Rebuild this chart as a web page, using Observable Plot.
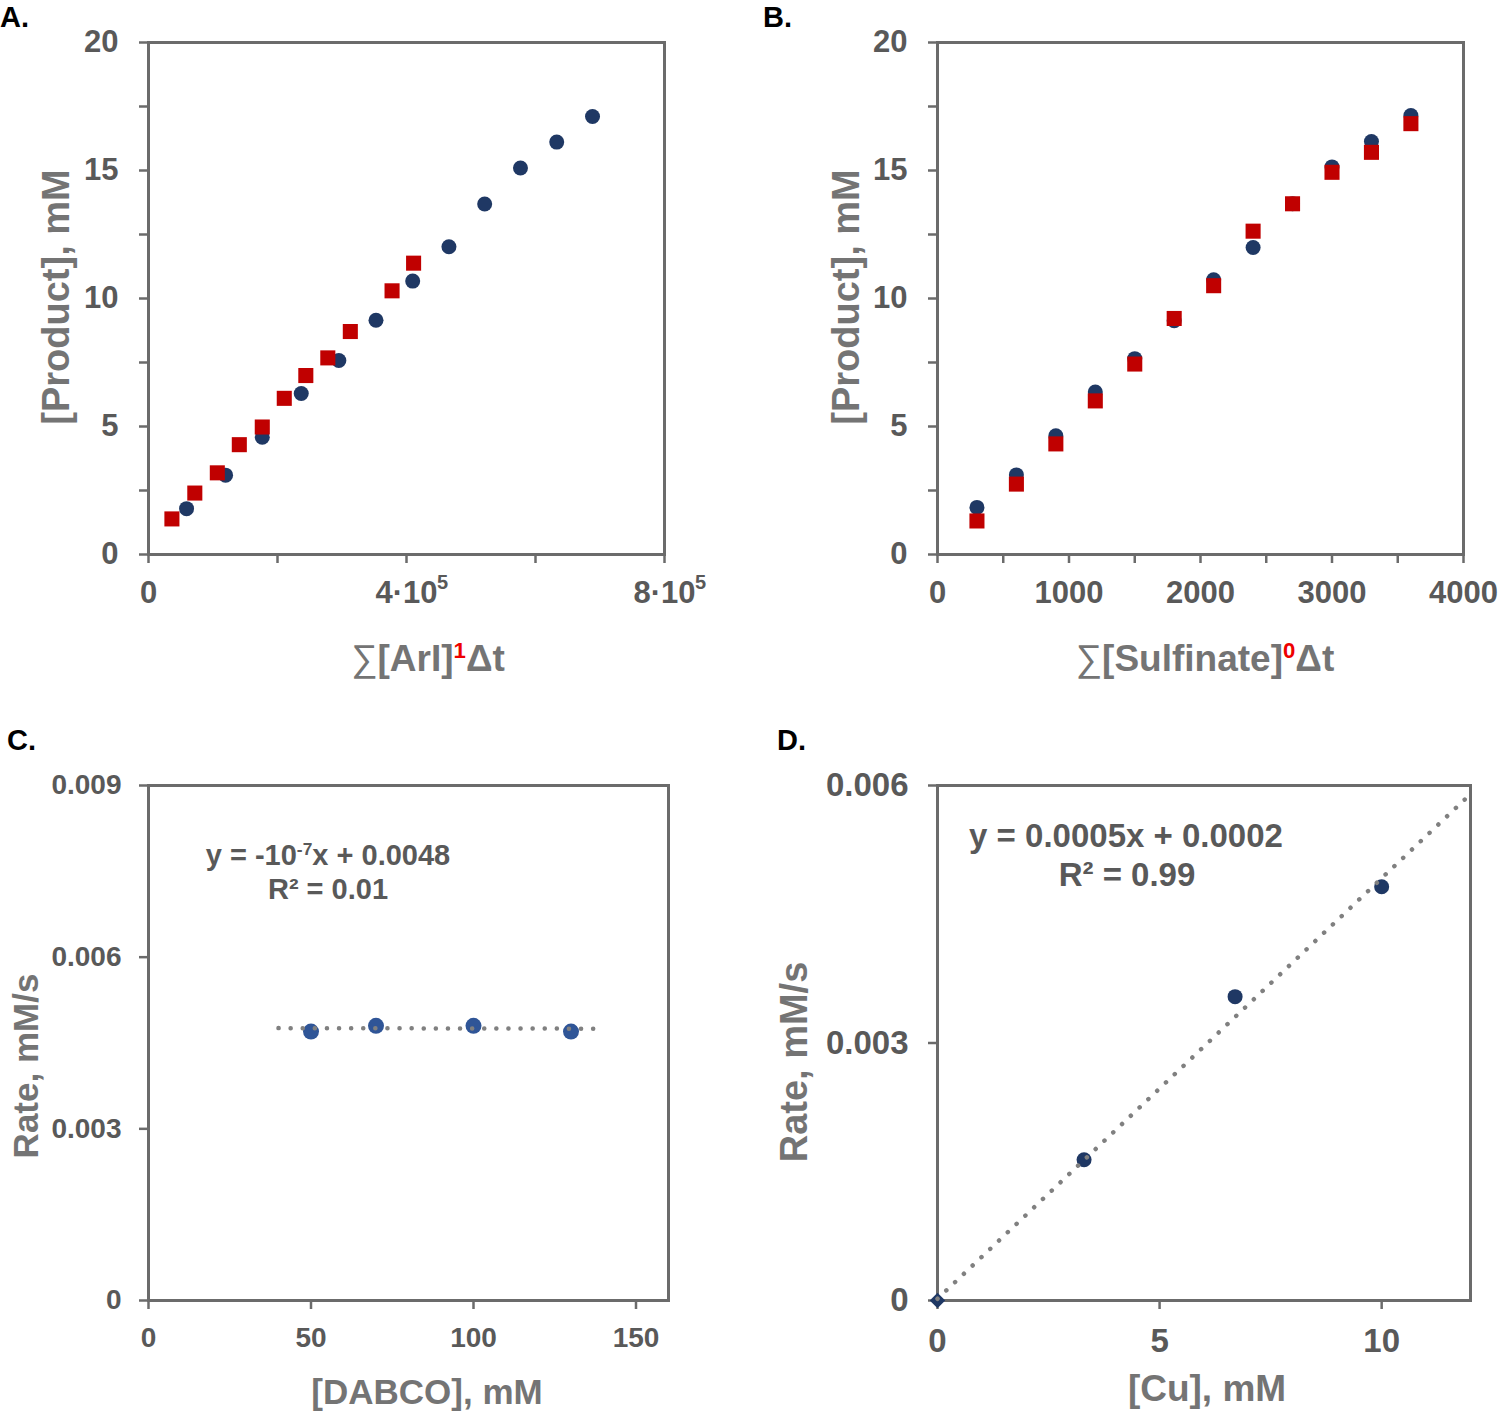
<!DOCTYPE html>
<html>
<head>
<meta charset="utf-8">
<script src="https://cdn.jsdelivr.net/npm/d3@7"></script>
<script src="https://cdn.jsdelivr.net/npm/@observablehq/plot@0.6"></script>
<style>
  body { margin: 0; background: #fff; }
  #root { position: relative; width: 1500px; height: 1412px; overflow: hidden; background: #fff;
          font-family: "Liberation Sans", Arial, sans-serif; font-weight: 700; }
  .panel { position: absolute; }
  .lbl { position: absolute; white-space: nowrap; color: #747474; font-weight: 700; line-height: 1;
         transform: translate(-50%, -50%); }
  .ylbl { transform: translate(-50%, -50%) rotate(-90deg); }
  .letter { position: absolute; color: #000; font-size: 29px; font-weight: 700; line-height: 1; }
  .eq { position: absolute; white-space: nowrap; color: #595959; font-weight: 700; line-height: 1;
        transform: translate(-50%, -50%); }
  .sup { font-size: 60%; vertical-align: 0.55em; }
  .red { color: #ee0000; }
  .sig { font-weight: 400; }
</style>
</head>
<body>
<div id="root">
  <div class="panel" id="pA" style="left:0px;top:0px;width:720px;height:700px"></div>
  <div class="panel" id="pB" style="left:760px;top:0px;width:740px;height:700px"></div>
  <div class="panel" id="pC" style="left:0px;top:720px;width:720px;height:692px"></div>
  <div class="panel" id="pD" style="left:760px;top:720px;width:740px;height:692px"></div>

  <div class="letter" style="left:0px;top:3px">A.</div>
  <div class="letter" style="left:763px;top:3px">B.</div>
  <div class="letter" style="left:7px;top:726px">C.</div>
  <div class="letter" style="left:777px;top:726px">D.</div>

  <div class="lbl ylbl" style="left:56px;top:297px;font-size:38px">[Product], mM</div>
  <div class="lbl ylbl" style="left:846px;top:297px;font-size:38px">[Product], mM</div>
  <div class="lbl ylbl" style="left:25px;top:1066px;font-size:35px">Rate, mM/s</div>
  <div class="lbl ylbl" style="left:794px;top:1062px;font-size:38px">Rate, mM/s</div>

  <div class="lbl" style="left:428px;top:658px;font-size:37px"><span class="sig">∑</span>[ArI]<span class="sup red">1</span>Δt</div>
  <div class="lbl" style="left:1205px;top:658px;font-size:37px"><span class="sig">∑</span>[Sulfinate]<span class="sup red">0</span>Δt</div>
  <div class="lbl" style="left:427px;top:1391px;font-size:35px">[DABCO], mM</div>
  <div class="lbl" style="left:1207px;top:1388px;font-size:37px">[Cu], mM</div>

  <div class="eq" style="left:328px;top:855px;font-size:29px">y = -10<span class="sup">-7</span>x + 0.0048</div>
  <div class="eq" style="left:328px;top:889px;font-size:29px">R² = 0.01</div>
  <div class="eq" style="left:1126px;top:835px;font-size:33px">y = 0.0005x + 0.0002</div>
  <div class="eq" style="left:1127px;top:874px;font-size:33px">R² = 0.99</div>
</div>
<script>
// ---------- Panel A data ----------
const aBlueX = [59000, 119500, 176400, 236800, 295100, 352700, 409600, 465800, 521200, 576700, 632900, 688400];
const aBlueY = [1.79, 3.10, 4.58, 6.29, 7.58, 9.15, 10.68, 12.02, 13.69, 15.10, 16.11, 17.11];
const aRedX  = [36300, 71800, 106700, 140800, 176400, 210500, 243900, 278000, 312900, 377600, 411000];
const aRedY  = [1.39, 2.40, 3.19, 4.29, 4.98, 6.10, 6.99, 7.68, 8.71, 10.30, 11.38];
const aXTicks = [0, 200000, 400000, 600000, 800000];
const aXTickLabels = ["0", "", "4·10", "", "8·10"];
const aXExpTicks = [400000, 800000];
const aXExpLabels = ["5", "5"];

// ---------- Panel B data ----------
const bX     = [300, 600, 900, 1200, 1500, 1800, 2100, 2400, 2700, 3000, 3300, 3600];
const bBlueY = [1.84, 3.11, 4.64, 6.35, 7.65, 9.13, 10.73, 11.99, 13.70, 15.14, 16.13, 17.15];
const bRedY  = [1.31, 2.75, 4.32, 6.00, 7.44, 9.22, 10.50, 12.63, 13.70, 14.93, 15.71, 16.83];
const bXTicks = [0, 500, 1000, 1500, 2000, 2500, 3000, 3500, 4000];
const bXTickLabels = ["0", "", "1000", "", "2000", "", "3000", "", "4000"];

// shared y ticks for A and B
const prodYTicks = [0, 2.5, 5, 7.5, 10, 12.5, 15, 17.5, 20];
const prodYTickLabels = ["0", "", "5", "", "10", "", "15", "", "20"];

// ---------- Panel C data ----------
const cX = [50, 70, 100, 130];
const cY = [0.0047, 0.0048, 0.0048, 0.0047];
const cTrendX = [40, 139];
const cTrendY = [0.00476, 0.00475];
const cXTicks = [0, 50, 100, 150];
const cXTickLabels = ["0", "50", "100", "150"];
const cYTicks = [0, 0.003, 0.006, 0.009];
const cYTickLabels = ["0", "0.003", "0.006", "0.009"];

// ---------- Panel D data ----------
const dX = [0, 3.3, 6.7, 10];
const dY = [0, 0.00164, 0.00354, 0.00482];
const dTrendX = [0, 12];
const dTrendY = [0.00002, 0.0059];
const dXTicks = [0, 5, 10];
const dXTickLabels = ["0", "5", "10"];
const dYTicks = [0, 0.003, 0.006];
const dYTickLabels = ["0", "0.003", "0.006"];

// ---------- styles ----------
const NAVY = "#1f3864", RED = "#c00000", CBLUE = "#2f5597";
const FRAME = "#6b6b6b", TICKTXT = "#595959", TREND = "#808080";
const fontStyle = { fontFamily: '"Liberation Sans", Arial, sans-serif', fontWeight: 700, background: "transparent", overflow: "visible" };
const fmt = (vals, labs) => d => { const i = vals.indexOf(d); return i < 0 ? "" : labs[i]; };
const zip = (xs, ys) => xs.map((x, i) => ({ x, y: ys[i] }));

function yAxis(ticks, labels, fs, pad) {
  return Plot.axisY(ticks, { tickFormat: fmt(ticks, labels), tickSize: 9, tickPadding: pad, fontSize: fs, fontWeight: 700,
    fill: TICKTXT, stroke: FRAME, strokeWidth: 2.5, label: null });
}
function xAxis(ticks, labels, fs, pad) {
  return Plot.axisX(ticks, { tickFormat: fmt(ticks, labels), tickSize: 9, tickPadding: pad, fontSize: fs, fontWeight: 700,
    fill: TICKTXT, stroke: FRAME, strokeWidth: 2.5, label: null });
}

// ---------- Panel A ----------
const plotA = Plot.plot({
  width: 720, height: 700,
  marginLeft: 148, marginRight: 56, marginTop: 42, marginBottom: 146,
  x: { domain: [0, 800000] }, y: { domain: [0, 20] },
  style: fontStyle,
  marks: [
    yAxis(prodYTicks, prodYTickLabels, 31, 21),
    xAxis(aXTicks, aXTickLabels, 31, 17),
    Plot.axisX(aXExpTicks, { tickFormat: fmt(aXExpTicks, aXExpLabels), tickSize: 0, tickPadding: 20, dx: 36, fontSize: 20,
      fontWeight: 700, fill: TICKTXT, label: null }),
    Plot.frame({ stroke: FRAME, strokeWidth: 3 }),
    Plot.dot(zip(aBlueX, aBlueY), { x: "x", y: "y", r: 7.5, fill: NAVY }),
    Plot.dot(zip(aRedX, aRedY), { x: "x", y: "y", r: 8.5, symbol: "square", fill: RED })
  ]
});
document.getElementById("pA").appendChild(plotA);

// ---------- Panel B ----------
const plotB = Plot.plot({
  width: 740, height: 700,
  marginLeft: 177, marginRight: 37, marginTop: 42, marginBottom: 146,
  x: { domain: [0, 4000] }, y: { domain: [0, 20] },
  style: fontStyle,
  marks: [
    yAxis(prodYTicks, prodYTickLabels, 31, 21),
    xAxis(bXTicks, bXTickLabels, 31, 17),
    Plot.frame({ stroke: FRAME, strokeWidth: 3 }),
    Plot.dot(zip(bX, bBlueY), { x: "x", y: "y", r: 7.5, fill: NAVY }),
    Plot.dot(zip(bX, bRedY), { x: "x", y: "y", r: 8.5, symbol: "square", fill: RED })
  ]
});
document.getElementById("pB").appendChild(plotB);

// ---------- Panel C ----------
const plotC = Plot.plot({
  width: 720, height: 692,
  marginLeft: 148, marginRight: 52, marginTop: 65, marginBottom: 112,
  x: { domain: [0, 160] }, y: { domain: [0, 0.009] },
  style: fontStyle,
  marks: [
    yAxis(cYTicks, cYTickLabels, 28, 18),
    xAxis(cXTicks, cXTickLabels, 28, 18),
    Plot.frame({ stroke: FRAME, strokeWidth: 3 }),
    Plot.dot(zip(cX, cY), { x: "x", y: "y", r: 8, fill: CBLUE }),
    Plot.line(zip(cTrendX, cTrendY), { x: "x", y: "y", stroke: TREND, strokeWidth: 4.5, strokeDasharray: "0.1 12", strokeLinecap: "round" })
  ]
});
document.getElementById("pC").appendChild(plotC);

// ---------- Panel D ----------
const dData = zip(dX, dY);
const plotD = Plot.plot({
  width: 740, height: 692,
  marginLeft: 177, marginRight: 30, marginTop: 65, marginBottom: 112,
  x: { domain: [0, 12] }, y: { domain: [0, 0.006] },
  style: fontStyle,
  marks: [
    yAxis(dYTicks, dYTickLabels, 33, 20),
    xAxis(dXTicks, dXTickLabels, 33, 19),
    Plot.frame({ stroke: FRAME, strokeWidth: 3 }),
    Plot.dot(dData.filter(d => d.x > 0), { x: "x", y: "y", r: 7.5, fill: NAVY }),
    Plot.dot(dData.filter(d => d.x === 0), { x: "x", y: "y", r: 7, symbol: "diamond2", fill: NAVY }),
    Plot.line(zip(dTrendX, dTrendY), { x: "x", y: "y", stroke: TREND, strokeWidth: 4.5, strokeDasharray: "0.1 12", strokeLinecap: "round" })
  ]
});
document.getElementById("pD").appendChild(plotD);
</script>
</body>
</html>
